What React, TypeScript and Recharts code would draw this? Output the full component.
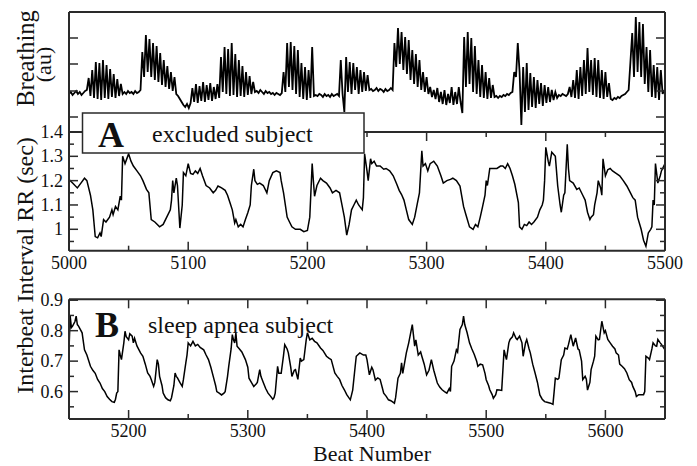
import React from "react";
import { LineChart, Line, XAxis, YAxis } from "recharts";

const W = 697;
const H = 466;
const FONT = '"Liberation Serif", "Times New Roman", Times, serif';
const FRAME = "#2a2a2a";

// ---------- Panel 1: breathing (au), sampled every 1.5 beats from beat 5000 ----------
const breathStart = 5000;
const breathStep = 1.5;
const breathValues = [
  38, 40, 37, 39, 41, 38, 40, 37, 39, 41, 42,
  54, 36, 62, 34, 70, 33, 69, 32, 72, 34, 67, 33, 63, 35, 58, 34, 53, 36, 48, 38,
  40, 38, 41, 39, 40, 38, 41, 39, 40,
  42, 80, 55, 97, 60, 93, 55, 89, 52, 86, 50, 79, 47, 72, 45, 66, 43, 60, 41, 55, 38,
  36, 33, 30, 27, 25, 28, 24, 29,
  44, 30, 48, 29, 46, 31, 50, 30, 47, 32, 49, 31, 45, 33, 48, 34,
  75, 40, 85, 38, 83, 36, 89, 37, 78, 35, 72, 36, 66, 35, 60, 37, 56, 38, 50,
  40, 41, 39, 42, 40, 38, 41, 39, 40, 38, 39, 37, 39, 38, 37, 39,
  60, 40, 89, 45, 90, 42, 86, 38, 82, 35, 69, 33, 65, 32, 62, 34, 85, 36,
  37, 36, 38, 37, 35, 38, 36, 37, 35, 38, 36, 37, 38, 36,
  72, 38, 20, 75, 40, 70, 38, 69, 42, 65, 38, 62, 40, 60, 41, 57, 42,
  43, 41, 42, 44, 41, 43, 42, 40, 43, 41, 42, 44, 42,
  89, 65, 104, 68, 100, 62, 95, 58, 92, 52, 82, 48, 78, 45, 72, 42, 60, 40, 55,
  38, 45, 35, 42, 33, 44, 30, 40, 28, 42, 27, 38, 29, 45, 27, 40, 28, 45, 30,
  19,
  95, 45, 100, 48, 94, 40, 86, 38, 72, 35, 67, 34, 60, 33, 54, 34,
  47, 35, 36, 34, 36, 35, 37, 36, 38, 37, 39,
  40, 60, 55, 89,
  60, 7, 65, 20, 69, 22, 59, 25, 55, 24, 52, 28, 49, 26, 47, 29, 45, 30, 42, 32, 40, 34,
  37, 36, 38, 37, 36, 38,
  45, 35, 52, 34, 62, 33, 65, 36, 72, 38, 84, 40, 72, 37, 74, 35, 72, 34, 62, 33, 60, 35, 49, 33,
  32, 34, 33, 35, 34, 36, 37, 38, 40, 42,
  70, 99, 55, 115, 60, 110, 55, 108, 48, 85, 40, 82, 35, 67, 34, 65, 32, 62, 38, 42,
];
const breathTicks = [15, 41, 68, 94];

// ---------- Panel A: RR interval (sec), excluded subject ----------
const rrPoints = [
  [5000, 1.205], [5003, 1.19], [5007, 1.17], [5010, 1.19], [5013, 1.21], [5015, 1.2], [5018, 1.14], [5020, 1.08],
  [5022, 0.97], [5024, 0.965], [5026, 0.985], [5027, 0.97], [5029, 1.04], [5031, 1.03], [5034, 1.05], [5036, 1.08],
  [5037, 1.06], [5039, 1.094], [5041, 1.08], [5043, 1.136], [5044, 1.12], [5045, 1.3], [5047, 1.27], [5050, 1.31],
  [5052, 1.28], [5054, 1.26], [5057, 1.24], [5060, 1.22], [5062, 1.2], [5065, 1.164], [5067, 1.15], [5069, 1.04],
  [5072, 1.03], [5076, 1.01], [5079, 1.02], [5082, 1.05], [5085, 1.08], [5086, 1.12], [5087, 1.2], [5088, 1.15],
  [5090, 1.21], [5091, 1.18], [5093, 1.005], [5095, 1.1], [5096, 1.233], [5098, 1.22], [5100, 1.27], [5102, 1.23],
  [5104, 1.226], [5106, 1.24], [5108, 1.23], [5110, 1.25], [5112, 1.22], [5115, 1.18], [5118, 1.17], [5121, 1.15],
  [5123, 1.16], [5125, 1.178], [5128, 1.17], [5131, 1.16], [5133, 1.14], [5135, 1.11], [5137, 1.08], [5139, 1.026],
  [5140, 1.04], [5142, 1.01], [5144, 1.02], [5146, 1.01], [5148, 1.04], [5150, 1.068], [5152, 1.1], [5153, 1.18],
  [5155, 1.247], [5156, 1.2], [5158, 1.185], [5160, 1.19], [5163, 1.18], [5166, 1.15], [5168, 1.2], [5171, 1.233],
  [5174, 1.24], [5177, 1.233], [5178, 1.2], [5180, 1.15], [5183, 1.05], [5185, 1.03], [5187, 1.01], [5190, 1.0],
  [5194, 1.0], [5197, 0.99], [5200, 0.995], [5202, 1.05], [5204, 1.27], [5205, 1.2], [5206, 1.136], [5208, 1.18],
  [5211, 1.21], [5213, 1.2], [5216, 1.19], [5219, 1.17], [5221, 1.15], [5224, 1.16], [5227, 1.15], [5229, 1.1],
  [5231, 1.05], [5233, 0.976], [5235, 1.02], [5237, 1.08], [5239, 1.1], [5241, 1.12], [5243, 1.1], [5246, 1.08],
  [5247, 1.13], [5248, 1.31], [5250, 1.24], [5251, 1.2], [5253, 1.29], [5254, 1.27], [5256, 1.28], [5258, 1.26],
  [5261, 1.26], [5264, 1.247], [5266, 1.25], [5269, 1.24], [5272, 1.22], [5275, 1.185], [5277, 1.16], [5279, 1.143],
  [5281, 1.12], [5283, 1.08], [5285, 1.04], [5288, 1.02], [5290, 1.05], [5292, 1.1], [5294, 1.15], [5296, 1.323],
  [5297, 1.26], [5299, 1.27], [5301, 1.24], [5303, 1.27], [5306, 1.28], [5309, 1.26], [5312, 1.22], [5314, 1.19],
  [5317, 1.2], [5320, 1.205], [5322, 1.21], [5325, 1.2], [5328, 1.178], [5331, 1.094], [5333, 1.06], [5336, 1.01],
  [5339, 1.0], [5341, 1.02], [5343, 1.01], [5345, 1.05], [5347, 1.094], [5349, 1.14], [5350, 1.2], [5351, 1.18],
  [5353, 1.25], [5356, 1.25], [5359, 1.25], [5362, 1.26], [5364, 1.26], [5366, 1.25], [5368, 1.27], [5370, 1.25],
  [5372, 1.22], [5374, 1.185], [5377, 1.11], [5378, 1.01], [5380, 1.0], [5382, 1.02], [5384, 1.015], [5386, 1.03],
  [5388, 1.02], [5390, 1.03], [5393, 1.05], [5395, 1.08], [5397, 1.1], [5398, 1.12], [5399, 1.2], [5400, 1.337],
  [5402, 1.28], [5403, 1.26], [5405, 1.317], [5408, 1.3], [5410, 1.178], [5412, 1.1], [5413, 1.07], [5415, 1.14],
  [5416, 1.15], [5418, 1.35], [5419, 1.25], [5420, 1.2], [5423, 1.19], [5426, 1.164], [5428, 1.17], [5431, 1.14],
  [5433, 1.12], [5435, 1.07], [5437, 1.04], [5438, 1.05], [5440, 1.06], [5441, 1.1], [5443, 1.15], [5444, 1.2],
  [5446, 1.17], [5447, 1.14], [5448, 1.29], [5450, 1.22], [5452, 1.245], [5454, 1.25], [5456, 1.24], [5459, 1.23],
  [5462, 1.22], [5465, 1.2], [5468, 1.178], [5471, 1.15], [5473, 1.13], [5475, 1.12], [5477, 1.05], [5480, 1.0],
  [5482, 0.955], [5484, 0.93], [5486, 0.985], [5488, 1.0], [5489, 1.01], [5490, 1.12], [5491, 1.1], [5492, 1.27],
  [5494, 1.19], [5496, 1.22], [5497, 1.24], [5500, 1.27],
];
const rrXMajor = [5000, 5100, 5200, 5300, 5400, 5500];
const rrXMinor = [5050, 5150, 5250, 5350, 5450];
const rrYMajor = [1, 1.1, 1.2, 1.3, 1.4];
const rrYMinor = [0.95, 1.05, 1.15, 1.25, 1.35];

// ---------- Panel B: RR interval (sec), sleep apnea subject ----------
const apneaPoints = [
  [5150, 0.737], [5151, 0.848], [5152, 0.81], [5153, 0.815], [5155, 0.83], [5156, 0.848], [5157, 0.82], [5158, 0.815],
  [5161, 0.793], [5163, 0.737], [5165, 0.72], [5168, 0.683], [5170, 0.67], [5172, 0.66], [5174, 0.64], [5176, 0.628],
  [5178, 0.61], [5180, 0.6], [5182, 0.584], [5184, 0.575], [5186, 0.567], [5188, 0.565], [5189, 0.575], [5190, 0.595],
  [5191, 0.6], [5192, 0.737], [5193, 0.72], [5194, 0.705], [5196, 0.76], [5197, 0.798], [5198, 0.78], [5200, 0.77],
  [5201, 0.79], [5203, 0.782], [5204, 0.76], [5205, 0.775], [5207, 0.75], [5210, 0.727], [5212, 0.716], [5214, 0.69],
  [5216, 0.661], [5218, 0.65], [5219, 0.64], [5221, 0.617], [5222, 0.63], [5224, 0.705], [5225, 0.69], [5226, 0.65],
  [5228, 0.62], [5229, 0.595], [5231, 0.58], [5233, 0.573], [5235, 0.57], [5236, 0.58], [5238, 0.62], [5239, 0.661],
  [5240, 0.65], [5241, 0.645], [5243, 0.63], [5245, 0.617], [5246, 0.64], [5248, 0.694], [5249, 0.72], [5250, 0.76],
  [5252, 0.75], [5254, 0.765], [5256, 0.75], [5258, 0.755], [5260, 0.745], [5263, 0.737], [5265, 0.72], [5267, 0.705],
  [5269, 0.68], [5271, 0.65], [5273, 0.62], [5274, 0.6], [5276, 0.595], [5278, 0.589], [5280, 0.595], [5281, 0.6],
  [5283, 0.65], [5284, 0.683], [5286, 0.74], [5287, 0.787], [5288, 0.77], [5289, 0.76], [5290, 0.793], [5291, 0.749],
  [5293, 0.74], [5295, 0.73], [5298, 0.705], [5300, 0.68], [5301, 0.644], [5303, 0.63], [5305, 0.617], [5307, 0.625],
  [5308, 0.63], [5310, 0.672], [5311, 0.65], [5313, 0.63], [5315, 0.61], [5317, 0.595], [5319, 0.585], [5321, 0.575],
  [5322, 0.58], [5323, 0.595], [5325, 0.683], [5326, 0.66], [5328, 0.66], [5330, 0.72], [5331, 0.754], [5333, 0.74],
  [5334, 0.727], [5336, 0.68], [5337, 0.65], [5339, 0.67], [5340, 0.672], [5342, 0.64], [5344, 0.71], [5345, 0.7],
  [5347, 0.705], [5349, 0.77], [5350, 0.793], [5352, 0.77], [5354, 0.775], [5356, 0.765], [5358, 0.76], [5361, 0.743],
  [5363, 0.735], [5366, 0.716], [5368, 0.71], [5370, 0.705], [5373, 0.661], [5375, 0.65], [5377, 0.64], [5379, 0.62],
  [5381, 0.606], [5383, 0.59], [5386, 0.573], [5388, 0.605], [5390, 0.68], [5391, 0.716], [5394, 0.727], [5397, 0.72],
  [5399, 0.72], [5400, 0.705], [5402, 0.655], [5404, 0.68], [5405, 0.672], [5407, 0.638], [5409, 0.645], [5411, 0.64],
  [5413, 0.61], [5414, 0.595], [5416, 0.585], [5418, 0.573], [5420, 0.57], [5423, 0.562], [5424, 0.58], [5426, 0.644],
  [5428, 0.66], [5429, 0.694], [5430, 0.66], [5433, 0.727], [5435, 0.76], [5437, 0.8], [5438, 0.82], [5440, 0.749],
  [5441, 0.77], [5443, 0.72], [5445, 0.73], [5446, 0.716], [5448, 0.69], [5450, 0.655], [5452, 0.67], [5454, 0.705],
  [5456, 0.67], [5459, 0.628], [5461, 0.615], [5463, 0.606], [5465, 0.6], [5467, 0.595], [5469, 0.61], [5470, 0.6],
  [5471, 0.683], [5473, 0.7], [5475, 0.737], [5476, 0.73], [5478, 0.804], [5480, 0.82], [5481, 0.848], [5482, 0.82],
  [5484, 0.793], [5486, 0.76], [5488, 0.74], [5490, 0.722], [5492, 0.7], [5493, 0.683], [5495, 0.69], [5497, 0.688],
  [5499, 0.66], [5500, 0.639], [5502, 0.62], [5503, 0.606], [5505, 0.59], [5506, 0.578], [5508, 0.59], [5509, 0.606],
  [5511, 0.605], [5513, 0.604], [5515, 0.737], [5516, 0.72], [5517, 0.705], [5519, 0.76], [5520, 0.771], [5522, 0.78],
  [5523, 0.793], [5525, 0.775], [5526, 0.771], [5528, 0.782], [5530, 0.76], [5531, 0.716], [5533, 0.76], [5534, 0.771],
  [5536, 0.74], [5537, 0.727], [5539, 0.69], [5541, 0.661], [5543, 0.63], [5545, 0.589], [5547, 0.575], [5549, 0.567],
  [5551, 0.565], [5554, 0.562], [5556, 0.558], [5557, 0.6], [5558, 0.644], [5560, 0.64], [5561, 0.644], [5563, 0.705],
  [5565, 0.72], [5566, 0.743], [5568, 0.74], [5569, 0.754], [5571, 0.787], [5573, 0.749], [5575, 0.776], [5577, 0.74],
  [5578, 0.737], [5580, 0.7], [5581, 0.639], [5583, 0.65], [5584, 0.641], [5585, 0.605], [5587, 0.63], [5588, 0.672],
  [5590, 0.7], [5591, 0.716], [5592, 0.782], [5594, 0.77], [5595, 0.771], [5597, 0.831], [5599, 0.793], [5600, 0.8],
  [5602, 0.771], [5604, 0.76], [5606, 0.749], [5608, 0.74], [5609, 0.727], [5611, 0.72], [5612, 0.69], [5614, 0.683],
  [5616, 0.675], [5618, 0.661], [5620, 0.639], [5622, 0.63], [5623, 0.617], [5625, 0.6], [5626, 0.584], [5628, 0.59],
  [5629, 0.59], [5632, 0.59], [5633, 0.6], [5634, 0.716], [5636, 0.71], [5637, 0.705], [5639, 0.74], [5640, 0.76],
  [5642, 0.75], [5643, 0.749], [5644, 0.771], [5646, 0.76], [5647, 0.755], [5650, 0.737],
];
const apXMajor = [5200, 5300, 5400, 5500, 5600];
const apXMinor = [5250, 5350, 5450, 5550];
const apYMajor = [0.6, 0.7, 0.8, 0.9];
const apYMinor = [0.55, 0.65, 0.75, 0.85];

// ---------- data tables ----------
const breathData = breathValues.map((v, i) => ({ x: breathStart + i * breathStep, y: v }));
const rrData = rrPoints.map(([x, y]) => ({ x, y }));
const apneaData = apneaPoints.map(([x, y]) => ({ x, y }));

const isIn = (arr, v) => arr.some((m) => Math.abs(m - v) < 1e-9);

function makeTick(orient, majors, showLabels, fmt) {
  return (props) => {
    const { x, y, payload } = props;
    const v = payload.value;
    const major = isIn(majors, v);
    const len = major ? 9 : 5;
    let line;
    let label = null;
    if (orient === "bottom") {
      line = <line x1={x} y1={y} x2={x} y2={y - len} stroke={FRAME} strokeWidth={1.5} />;
      if (showLabels && major)
        label = (
          <text x={x} y={y + 18} textAnchor="middle" fontFamily={FONT} fontSize={18} fill="#111">
            {fmt(v)}
          </text>
        );
    } else if (orient === "top") {
      line = <line x1={x} y1={y} x2={x} y2={y + len} stroke={FRAME} strokeWidth={1.5} />;
    } else if (orient === "left") {
      line = <line x1={x} y1={y} x2={x + len} y2={y} stroke={FRAME} strokeWidth={1.5} />;
      if (showLabels && major)
        label = (
          <text x={x - 6} y={y + 6} textAnchor="end" fontFamily={FONT} fontSize={18} fill="#111">
            {fmt(v)}
          </text>
        );
    } else {
      line = <line x1={x} y1={y} x2={x - len} y2={y} stroke={FRAME} strokeWidth={1.5} />;
    }
    return (
      <g>
        {line}
        {label}
      </g>
    );
  };
}

const axisLine = { stroke: FRAME, strokeWidth: 2 };

function Panel(p) {
  const left = 69;
  const width = 596;
  const xTicks = p.xMajor ? [...p.xMajor, ...p.xMinor].sort((a, b) => a - b) : null;
  const yTicks = [...p.yMajor, ...p.yMinor].sort((a, b) => a - b);
  const common = { type: "number", allowDataOverflow: true, interval: 0, tickSize: 0, tickMargin: 0, tickLine: false, axisLine };
  return (
    <div style={{ position: "absolute", left: 0, top: 0 }}>
      <LineChart
        width={W}
        height={H}
        data={p.data}
        margin={{ top: p.top - 1, left: left - 1, right: W - left - width - 1, bottom: H - p.top - p.height - 1 }}
      >
        <XAxis
          {...common}
          xAxisId="b"
          dataKey="x"
          orientation="bottom"
          height={1}
          domain={p.xDomain}
          ticks={xTicks || undefined}
          tick={xTicks ? makeTick("bottom", p.xMajor, p.xLabels, (v) => String(v)) : false}
        />
        <XAxis
          {...common}
          xAxisId="t"
          dataKey="x"
          orientation="top"
          height={1}
          domain={p.xDomain}
          ticks={xTicks || undefined}
          tick={xTicks ? makeTick("top", p.xMajor, false, String) : false}
        />
        <YAxis
          {...common}
          yAxisId="l"
          orientation="left"
          width={1}
          domain={p.yDomain}
          ticks={yTicks}
          tick={makeTick("left", p.yMajor, p.yLabels, p.yFmt || String)}
        />
        <YAxis
          {...common}
          yAxisId="r"
          orientation="right"
          width={1}
          domain={p.yDomain}
          ticks={yTicks}
          tick={makeTick("right", p.yMajor, false, String)}
        />
        <Line
          xAxisId="t"
          yAxisId="r"
          dataKey="y"
          stroke="none"
          dot={false}
          isAnimationActive={false}
          legendType="none"
        />
        <Line
          xAxisId="b"
          yAxisId="l"
          dataKey="y"
          type="linear"
          stroke="#000"
          strokeWidth={p.strokeWidth || 1.5}
          dot={false}
          isAnimationActive={false}
        />
      </LineChart>
    </div>
  );
}

const fmtRR = (v) => (Math.abs(v - 1) < 1e-9 ? "1" : v.toFixed(1));

export default function App() {
  return (
    <div style={{ position: "absolute", left: 0, top: 0, width: W, height: H, background: "#fff", overflow: "hidden" }}>
      <Panel
        data={breathData}
        top={12}
        height={120}
        xDomain={[5000, 5500]}
        yDomain={[0, 120]}
        yMajor={breathTicks}
        yMinor={[]}
        yLabels={false}
        strokeWidth={1.8}
      />
      <Panel
        data={rrData}
        top={132}
        height={118.7}
        xDomain={[5000, 5500]}
        yDomain={[0.912, 1.4]}
        xMajor={rrXMajor}
        xMinor={rrXMinor}
        yMajor={rrYMajor}
        yMinor={rrYMinor}
        xLabels={true}
        yLabels={true}
        yFmt={fmtRR}
      />
      <Panel
        data={apneaData}
        top={299.3}
        height={119.7}
        xDomain={[5150, 5650]}
        yDomain={[0.51, 0.903]}
        xMajor={apXMajor}
        xMinor={apXMinor}
        yMajor={apYMajor}
        yMinor={apYMinor}
        xLabels={true}
        yLabels={true}
        yFmt={(v) => v.toFixed(1)}
      />
      <svg width={W} height={H} style={{ position: "absolute", left: 0, top: 0, pointerEvents: "none" }}>
        <g fontFamily={FONT} fill="#111">
          <text transform="translate(34,58.5) rotate(-90)" textAnchor="middle" fontSize={24.5}>
            Breathing
          </text>
          <text transform="translate(51,64.5) rotate(-90)" textAnchor="middle" fontSize={22}>
            (au)
          </text>
          <text transform="translate(33,265.5) rotate(-90)" textAnchor="middle" fontSize={24}>
            Interbeat Interval RR (sec)
          </text>
          <rect x={82.5} y={113} width={281.5} height={40} fill="#fff" stroke={FRAME} strokeWidth={1.5} />
          <text x={98} y={147} fontSize={36} fontWeight="bold">
            A
          </text>
          <text x={152} y={142} fontSize={24}>
            excluded subject
          </text>
          <text x={95} y={337} fontSize={36} fontWeight="bold">
            B
          </text>
          <text x={148} y={333} fontSize={24}>
            sleep apnea subject
          </text>
          <text x={372} y={461} textAnchor="middle" fontSize={22}>
            Beat Number
          </text>
        </g>
      </svg>
    </div>
  );
}
